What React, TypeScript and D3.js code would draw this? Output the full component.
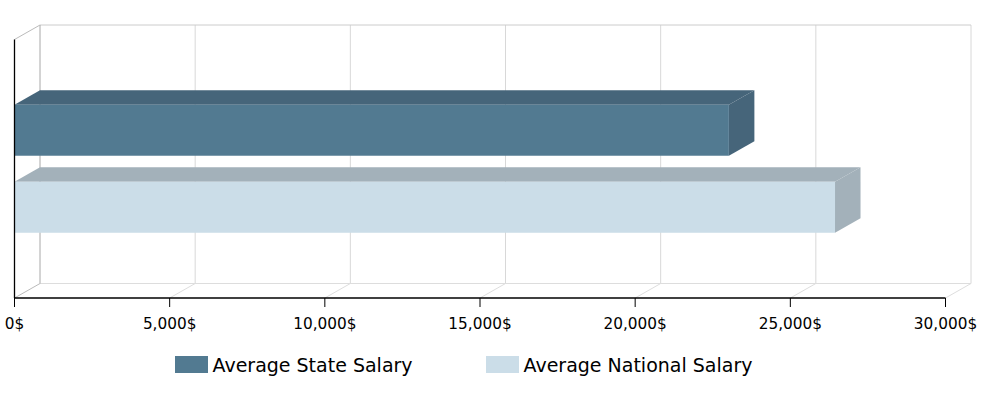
import React from "react";
import * as d3 from "d3";

const categories = ["Salary"];
const seriesNames = ["Average State Salary", "Average National Salary"];
const seriesValues = [23020, 26440];
const tickValues = [0, 5000, 10000, 15000, 20000, 25000, 30000];
const frontColors = ["#527a91", "#cbdde8"];
const sideColors = ["#46657a", "#a3b1ba"];

const W = 991;
const H = 394;
const X0 = 14.5;
const X1 = 945.5;
const Y0 = 39.5;
const Y1 = 298;
const DX = 25.5;
const DY = -14.5;

export default function App() {
  const x = d3.scaleLinear().domain([0, 30000]).range([X0, X1]);
  const cat = d3.scaleBand().domain(categories).range([Y0, Y1]).padding(0);
  const ser = d3
    .scaleBand()
    .domain(seriesNames)
    .range([cat(categories[0]) as number, (cat(categories[0]) as number) + cat.bandwidth()])
    .paddingInner(0.338)
    .paddingOuter(0.847);
  const fmt = (v: number) => d3.format(",")(v) + "$";
  const font = "'DejaVu Sans', Verdana, sans-serif";

  const legendX = [175, 486];

  return (
    <div style={{ position: "absolute", left: 0, top: 0 }}>
      <svg width={W} height={H} style={{ display: "block", background: "#fff" }}>
        {tickValues.slice(1).map((t) => (
          <line key={"g" + t} x1={x(t) + DX} x2={x(t) + DX} y1={Y0 + DY} y2={Y1 + DY} stroke="#d8d8d8" strokeWidth={1} />
        ))}
        {tickValues.slice(1).map((t) => (
          <line key={"f" + t} x1={x(t)} x2={x(t) + DX} y1={Y1} y2={Y1 + DY} stroke="#dedede" strokeWidth={1} />
        ))}
        <line x1={X0 + DX} x2={X1 + DX} y1={Y0 + DY} y2={Y0 + DY} stroke="#cccccc" strokeWidth={1} />
        <line x1={X0 + DX} x2={X1 + DX} y1={Y1 + DY} y2={Y1 + DY} stroke="#dddddd" strokeWidth={1} />
        <line x1={X0 + DX} x2={X0 + DX} y1={Y0 + DY} y2={Y1 + DY} stroke="#a8a8a8" strokeWidth={1} />
        <line x1={X0} x2={X0 + DX} y1={Y0} y2={Y0 + DY} stroke="#bbbbbb" strokeWidth={1} />
        <line x1={X0} x2={X0 + DX} y1={Y1} y2={Y1 + DY} stroke="#bbbbbb" strokeWidth={1} />

        {seriesNames.map((s, i) => {
          const top = ser(s) as number;
          const bot = top + ser.bandwidth();
          const xl = x(0);
          const xr = x(seriesValues[i]);
          const topFace = `M${xl},${top}L${xl + DX},${top + DY}L${xr + DX},${top + DY}L${xr},${top}Z`;
          const sideFace = `M${xr},${top}L${xr + DX},${top + DY}L${xr + DX},${bot + DY}L${xr},${bot}Z`;
          return (
            <g key={s}>
              <path d={topFace} fill={sideColors[i]} />
              <path d={sideFace} fill={sideColors[i]} />
              <rect x={xl} y={top} width={xr - xl} height={bot - top} fill={frontColors[i]} />
            </g>
          );
        })}

        <line x1={X0} x2={X0} y1={Y0} y2={Y1} stroke="#000" strokeWidth={1.3} />
        <line x1={X0} x2={X1} y1={Y1} y2={Y1} stroke="#000" strokeWidth={1.3} />
        {tickValues.map((t) => (
          <g key={"t" + t}>
            <line x1={x(t)} x2={x(t)} y1={Y1} y2={Y1 + 9} stroke="#000" strokeWidth={1} />
            <text x={x(t)} y={329} textAnchor="middle" fontFamily={font} fontSize={15.3} fill="#000">
              {fmt(t)}
            </text>
          </g>
        ))}

        {seriesNames.map((s, i) => (
          <g key={"l" + s}>
            <rect x={legendX[i]} y={356} width={33} height={17} fill={frontColors[i]} />
            <text x={legendX[i] + 37.5} y={372.3} fontFamily={font} fontSize={19} fill="#000">
              {s}
            </text>
          </g>
        ))}
      </svg>
    </div>
  );
}
